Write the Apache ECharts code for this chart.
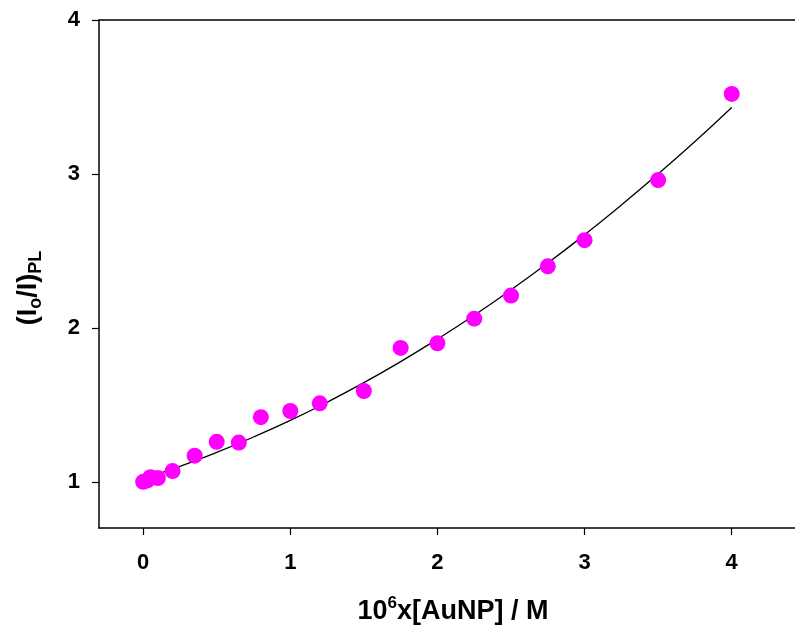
<!DOCTYPE html>
<html>
<head>
<meta charset="utf-8">
<script src="https://cdn.jsdelivr.net/npm/echarts@6/dist/echarts.min.js"></script>
<style>
  html, body { margin: 0; padding: 0; background: #fff; }
  #chart { width: 795px; height: 627px; }
</style>
</head>
<body>
<div id="chart"></div>
<script>
// Measured quenching ratio vs. gold nanoparticle concentration
var concX = [0, 0.03, 0.05, 0.1, 0.2, 0.35, 0.5, 0.65, 0.8, 1.0, 1.2, 1.5, 1.75, 2.0, 2.25, 2.5, 2.75, 3.0, 3.5, 4.0];
var ratioY = [1.00, 1.01, 1.03, 1.025, 1.07, 1.17, 1.26, 1.255, 1.42, 1.46, 1.51, 1.59, 1.87, 1.90, 2.06, 2.21, 2.40, 2.57, 2.96, 3.52];

// Fitted curve, sampled along its length
var fitX = [0, 0.25, 0.5, 0.75, 1.0, 1.25, 1.5, 1.75, 2.0, 2.25, 2.5, 2.75, 3.0, 3.25, 3.5, 3.75, 4.0];
var fitY = [1.021, 1.101, 1.191, 1.291, 1.399, 1.517, 1.644, 1.781, 1.927, 2.082, 2.247, 2.421, 2.605, 2.798, 3.000, 3.211, 3.432];

// Tick values
var xTicks = [0, 1, 2, 3, 4];
var yTicks = [1, 2, 3, 4];

var FONT = '"Liberation Sans", Arial, Helvetica, sans-serif';
var X_MIN = -0.3, X_MAX = 4.43;

function pairs(xs, ys) {
  return xs.map(function (x, i) { return [x, ys[i]]; });
}

var chart = echarts.init(document.getElementById('chart'), null, { renderer: 'canvas' });

chart.setOption({
  animation: false,
  backgroundColor: '#ffffff',
  grid: {
    left: 99, top: 20, right: 0, bottom: 99,
    show: false
  },
  xAxis: [
    {
      type: 'value',
      min: X_MIN, max: X_MAX,
      axisLine: { show: true, onZero: false, lineStyle: { color: '#000', width: 1.5 } },
      axisTick: { show: true, inside: false, length: 7, customValues: xTicks, lineStyle: { color: '#000', width: 1.2 } },
      axisLabel: {
        customValues: xTicks, margin: 24,
        color: '#000', fontFamily: FONT, fontWeight: 'bold', fontSize: 22
      },
      splitLine: { show: false }
    },
    {
      // top frame edge
      type: 'value',
      position: 'top',
      min: X_MIN, max: X_MAX,
      axisLine: { show: true, onZero: false, lineStyle: { color: '#000', width: 1.5 } },
      axisTick: { show: false },
      axisLabel: { show: false },
      splitLine: { show: false }
    }
  ],
  yAxis: {
    type: 'value',
    min: 0.7, max: 4,
    axisLine: { show: true, onZero: false, lineStyle: { color: '#000', width: 1.5 } },
    axisTick: { show: true, inside: false, length: 7, customValues: yTicks, lineStyle: { color: '#000', width: 1.2 } },
    axisLabel: {
      customValues: yTicks, margin: 19,
      color: '#000', fontFamily: FONT, fontWeight: 'bold', fontSize: 22
    },
    splitLine: { show: false }
  },
  graphic: [
    {
      type: 'text',
      x: 453, y: 610,
      style: {
        text: '{b|10}{sup|6}{b|x[AuNP] / M}',
        align: 'center', verticalAlign: 'middle',
        rich: {
          b: { fontFamily: FONT, fontWeight: 'bold', fontSize: 27, lineHeight: 30, verticalAlign: 'bottom', fill: '#000' },
          sup: { fontFamily: FONT, fontWeight: 'bold', fontSize: 17, lineHeight: 10, verticalAlign: 'top', fill: '#000' }
        }
      }
    },
    {
      type: 'text',
      x: 30, y: 288,
      rotation: Math.PI / 2,
      style: {
        text: '{a|(I}{s|o}{a|/I)}{s|PL}',
        align: 'center', verticalAlign: 'middle',
        rich: {
          a: { fontFamily: FONT, fontWeight: 'bold', fontSize: 27, lineHeight: 30, verticalAlign: 'top', fill: '#000' },
          s: { fontFamily: FONT, fontWeight: 'bold', fontSize: 18, lineHeight: 10, verticalAlign: 'bottom', fill: '#000' }
        }
      }
    }
  ],
  series: [
    {
      type: 'line',
      data: pairs(fitX, fitY),
      smooth: true,
      showSymbol: false,
      symbol: 'none',
      lineStyle: { color: '#000', width: 1.3 },
      z: 2
    },
    {
      type: 'scatter',
      data: pairs(concX, ratioY),
      symbol: 'circle',
      symbolSize: 16,
      itemStyle: { color: '#ff00ff', opacity: 1 },
      z: 3
    }
  ]
});
</script>
</body>
</html>
